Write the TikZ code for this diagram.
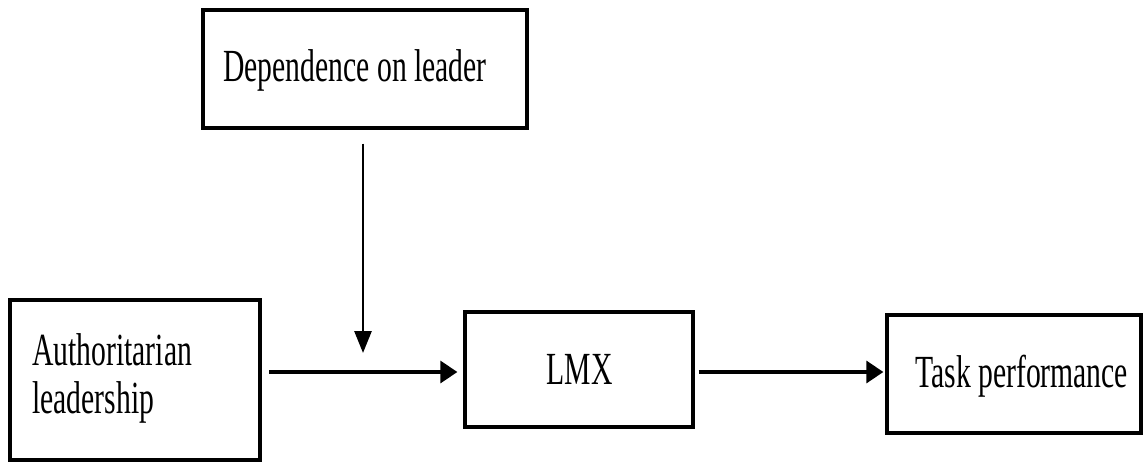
\documentclass[tikz,border=0pt]{standalone}
\usepackage{fontspec}
\setmainfont{Liberation Serif}[FakeStretch=0.645]
\usetikzlibrary{arrows.meta,calc}
\tikzset{
  box/.style={draw=black, line width=3.3pt, rectangle, inner sep=0pt},
  lbl/.style={inner sep=0pt, font=\fontsize{46}{48}\selectfont},
  harr/.style={line width=3.3pt, -{Triangle[length=17pt,width=22pt]}},
  varr/.style={line width=2.8pt, -{Triangle[length=22pt,width=17pt]}}
}
\begin{document}
\begin{tikzpicture}[x=1pt,y=-1pt]
\useasboundingbox (0,0) rectangle (1145,463);
% boxes
\node[box, minimum width=324pt, minimum height=118pt] (dep) at (365,69) {};
\node[box, minimum width=250pt, minimum height=160pt] (auth) at (135,380) {};
\node[box, minimum width=228pt, minimum height=115pt] (lmx) at (579,369.5) {};
\node[box, minimum width=254pt, minimum height=118pt] (task) at (1014,374) {};
% texts
\node[lbl, anchor=base west] (tdep) at (223,81) {Dependence on leader};
\node[lbl, anchor=base west] (tauth1) at (32,365) {Authoritarian};
\node[lbl, anchor=base west] (tauth2) at (32,413) {leadership};
\node[lbl, anchor=base] (tlmx) at (579.5,384) {LMX};
\node[lbl, anchor=base west] (ttask) at (915,387) {Task performance};
% connectors
\coordinate (mod) at (363,353);
\coordinate (hin) at (269,372);
\draw[harr, shorten >=6pt] (hin) -- (hin -| lmx.west);
\draw[varr] ([yshift=-14pt]dep.south -| mod) -- (mod);
\draw[harr, shorten >=2pt] ([xshift=4pt]lmx.east |- hin) -- (hin -| task.west);
\end{tikzpicture}
\end{document}
